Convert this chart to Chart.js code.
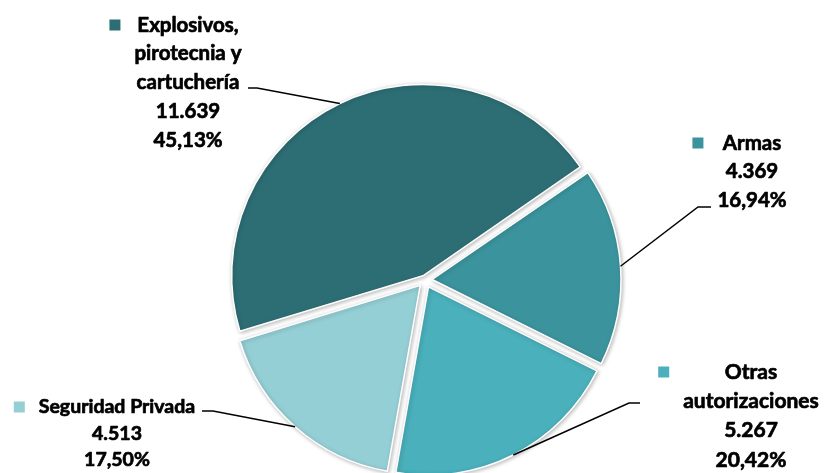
<!DOCTYPE html>
<html>
<head>
<meta charset="utf-8">
<script src="https://cdn.jsdelivr.net/npm/chart.js@4.4.1/dist/chart.umd.min.js"></script>
<style>
  html, body { margin: 0; padding: 0; background: #fff; }
  #contenedor { width: 826px; height: 473px; }
</style>
</head>
<body>
<div id="contenedor"><canvas id="grafico1"></canvas></div>
<script>
// datos del gráfico
const categorias = [
  ["Explosivos,", "pirotecnia y", "cartuchería"],
  ["Armas"],
  ["Otras", "autorizaciones"],
  ["Seguridad Privada"],
];
const cantidades = [11639, 4369, 5267, 4513];
const colores = ["#2d6e75", "#3b949d", "#4ab0bc", "#95cfd6"];

// posición de cada rótulo (centro x, primera línea y, interlineado, tamaño, inicio y fin del tramo horizontal)
const rotulos = [
  { cx: 188, y: 25, lh: 28.8, size: 20.5, desde: [248, 88], hasta: [257, 88] },
  { cx: 752, y: 143, lh: 28.5, size: 20.5, desde: [711, 207], hasta: [698, 207] },
  { cx: 751, y: 372, lh: 29.3, size: 21, desde: [640, 403], hasta: [629, 403] },
  { cx: 117, y: 407, lh: 26.5, size: 19.5, desde: [202, 411], hasta: [213, 411] },
];

const SEPARACION = 8; // desplazamiento visible de cada porción, px
const total = cantidades.reduce((a, b) => a + b, 0);

const formatoMiles = (n) => String(n).replace(/\B(?=(\d{3})+(?!\d))/g, ".");
const formatoPct = (n) => ((n / total) * 100).toFixed(2).replace(".", ",") + "%";

// chart.js aplica offset/4 * (1 + fix) donde fix = 1 - sin(circunferencia)
function factorDesplazamiento(valor) {
  const circ = (valor / total) * Math.PI * 2;
  return 1 + (1 - Math.sin(Math.min(Math.PI, circ)));
}

const rotulosPlugin = {
  id: "rotulos",
  beforeDatasetsDraw(chart) {
    const ctx = chart.ctx;
    ctx.save();
    ctx.shadowColor = "rgba(0,0,0,0.28)";
    ctx.shadowBlur = 4;
    ctx.shadowOffsetX = 1;
    ctx.shadowOffsetY = 1;
  },
  afterDatasetsDraw(chart) {
    const ctx = chart.ctx;
    ctx.restore();
    const meta = chart.getDatasetMeta(0);
    meta.data.forEach((arc, i) => {
      const r = rotulos[i];
      const { x, y, startAngle, endAngle, outerRadius } = arc.getProps(
        ["x", "y", "startAngle", "endAngle", "outerRadius"], true
      );
      const medio = (startAngle + endAngle) / 2;
      const d = SEPARACION + outerRadius;
      const ax = x + Math.cos(medio) * d;
      const ay = y + Math.sin(medio) * d;

      // línea guía
      ctx.save();
      ctx.strokeStyle = "#000";
      ctx.lineWidth = 1.5;
      ctx.beginPath();
      ctx.moveTo(r.desde[0], r.desde[1]);
      ctx.lineTo(r.hasta[0], r.hasta[1]);
      ctx.lineTo(ax, ay);
      ctx.stroke();

      // texto (un trazo fino para engrosarlo un poco)
      const lineas = [...categorias[i], formatoMiles(cantidades[i]), formatoPct(cantidades[i])];
      ctx.font = "bold " + r.size + "px Lato";
      ctx.fillStyle = "#000";
      ctx.lineWidth = 0.7;
      ctx.lineJoin = "round";
      ctx.textAlign = "center";
      ctx.textBaseline = "middle";
      let izquierda = Infinity;
      lineas.forEach((t, k) => {
        ctx.fillText(t, r.cx, r.y + k * r.lh);
        ctx.strokeText(t, r.cx, r.y + k * r.lh);
        izquierda = Math.min(izquierda, r.cx - ctx.measureText(t).width / 2);
      });

      // cuadro de color de la leyenda
      ctx.fillStyle = colores[i];
      ctx.fillRect(izquierda - 25, r.y - 5.5, 11, 11);
      ctx.restore();
    });
  },
};

const ctx = document.getElementById("grafico1").getContext("2d");
new Chart(ctx, {
  type: "pie",
  data: {
    labels: categorias.map((c) => c.join(" ")),
    datasets: [
      {
        data: cantidades,
        backgroundColor: colores,
        borderColor: "#ffffff",
        borderWidth: 1.5,
        offset: (c) => (4 * SEPARACION) / factorDesplazamiento(c.dataset.data[c.dataIndex]),
      },
    ],
  },
  options: {
    responsive: true,
    maintainAspectRatio: false,
    animation: false,
    events: [],
    rotation: -107,
    radius: 188,
    layout: { padding: { top: 87, left: 24, right: 0, bottom: 0 } },
    plugins: {
      legend: { display: false },
      tooltip: { enabled: false },
    },
  },
  plugins: [rotulosPlugin],
});
</script>
</body>
</html>
